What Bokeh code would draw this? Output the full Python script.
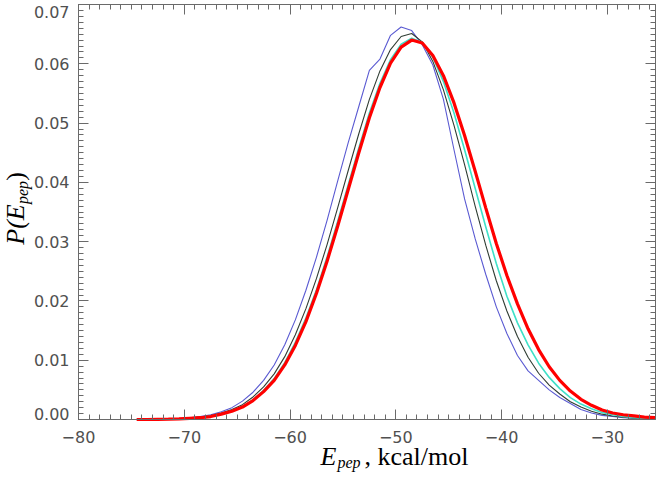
import numpy as np
from bokeh.plotting import figure
from bokeh.models import Range1d, LinearAxis, FixedTicker
from bokeh.core.properties import value
from bokeh.embed import file_html
from bokeh.resources import INLINE

# Peptide energy bins (kcal/mol)
energy = [-74.5, -73.5, -72.5, -71.5, -70.5, -69.5, -68.5, -67.5, -66.5, -65.5,
          -64.5, -63.5, -62.5, -61.5, -60.5, -59.5, -58.5, -57.5, -56.5, -55.5,
          -54.5, -53.5, -52.5, -51.5, -50.5, -49.5, -48.5, -47.5, -46.5, -45.5,
          -44.5, -43.5, -42.5, -41.5, -40.5, -39.5, -38.5, -37.5, -36.5, -35.5,
          -34.5, -33.5, -32.5, -31.5, -30.5, -29.5, -28.5, -27.5, -26.5, -25.5]

p_blue = [0.00002, 0.00003, 0.00005, 0.0001, 0.00017, 0.0003, 0.0005, 0.0008, 0.0013, 0.0020,
          0.0031, 0.0046, 0.0066, 0.0092, 0.0126, 0.0168, 0.0218, 0.0274, 0.0336, 0.0402,
          0.0467, 0.0528, 0.0589, 0.0608, 0.0648, 0.0662, 0.0656, 0.0632, 0.0598, 0.0540,
          0.0455, 0.0372, 0.0305, 0.0245, 0.0190, 0.0145, 0.0108, 0.0082, 0.0066, 0.0050,
          0.0037, 0.0027, 0.0017, 0.0011, 0.0007, 0.0005, 0.0003, 0.0002, 0.0001, 0.0001]

p_dark = [0.00001, 0.00002, 0.00004, 0.00007, 0.00013, 0.00023, 0.0004, 0.00066, 0.0011, 0.0017,
          0.0025, 0.0038, 0.0055, 0.0077, 0.0106, 0.0143, 0.0187, 0.0238, 0.0295, 0.0357,
          0.0420, 0.0482, 0.0540, 0.0588, 0.0624, 0.0646, 0.0651, 0.0637, 0.0604, 0.0556,
          0.0496, 0.0430, 0.0360, 0.0294, 0.0234, 0.0183, 0.0140, 0.0105, 0.0078, 0.0058,
          0.0043, 0.0030, 0.0021, 0.0014, 0.0009, 0.0006, 0.0004, 0.0002, 0.0001, 0.0001]

p_cyan = [0.0, 0.00002, 0.00003, 0.00006, 0.0001, 0.0002, 0.0003, 0.0006, 0.0009, 0.0014,
          0.0022, 0.0033, 0.0049, 0.0069, 0.0096, 0.0130, 0.0171, 0.0219, 0.0274, 0.0334,
          0.0396, 0.0458, 0.0517, 0.0567, 0.0607, 0.0633, 0.0643, 0.0636, 0.0611, 0.0570,
          0.0517, 0.0455, 0.0390, 0.0325, 0.0263, 0.0208, 0.0163, 0.0126, 0.0095, 0.0071,
          0.0052, 0.0037, 0.0026, 0.0018, 0.0012, 0.0008, 0.0005, 0.0003, 0.0002, 0.0001]

p_red = [0.0, 0.0, 0.00003, 0.00006, 0.0001, 0.0002, 0.0003, 0.0005, 0.0009, 0.0014,
         0.0021, 0.0032, 0.0047, 0.0066, 0.0092, 0.0125, 0.0165, 0.0213, 0.0267, 0.0326,
         0.0388, 0.0450, 0.0509, 0.0560, 0.0601, 0.0628, 0.0640, 0.0635, 0.0614, 0.0580,
         0.0534, 0.0479, 0.0419, 0.0357, 0.0297, 0.0243, 0.0195, 0.0153, 0.0118, 0.0089,
         0.0066, 0.0048, 0.0034, 0.0024, 0.0016, 0.0011, 0.0008, 0.0006, 0.0004, 0.0003]

x_ticks = [-80, -70, -60, -50, -40, -30]
x_tick_labels = ["\u221280", "\u221270", "\u221260", "\u221250", "\u221240", "\u221230"]
y_ticks = [0.0, 0.01, 0.02, 0.03, 0.04, 0.05, 0.06, 0.07]
y_tick_labels = ["0.00", "0.01", "0.02", "0.03", "0.04", "0.05", "0.06", "0.07"]

# axis box extent in data units
X0, X1 = -80.0, -25.45
Y0, Y1 = 0.0, 0.07

AXIS_COLOR = "#6a6a6a"
TICK_TEXT = "#505050"
SERIF = "Liberation Serif"
SANS = "DejaVu Sans"

# page size and where the axis box sits on it (pixels from top-left)
W, H = 661, 483
BOX_L, BOX_R, BOX_T, BOX_B = 78, 655, 4, 419
PX_X = (BOX_R - BOX_L) / (X1 - X0)
PX_Y = (BOX_B - BOX_T) / (Y1 - Y0)


def dx(px):
    return X0 + (px - BOX_L) / PX_X


def dy(py):
    return Y0 + (BOX_B - py) / PX_Y


# the plotting frame spans the whole page; the axes are pinned to the box
p = figure(width=W, height=H, output_backend="svg", toolbar_location=None,
           x_axis_type=None, y_axis_type=None,
           x_range=Range1d(dx(0), dx(W)), y_range=Range1d(dy(H), dy(0)),
           min_border=0, min_border_left=0, min_border_right=0,
           min_border_top=0, min_border_bottom=0)
p.background_fill_color = "white"
p.border_fill_color = "white"
p.outline_line_color = None
p.xgrid.visible = False
p.ygrid.visible = False

x_minor = list(np.arange(-80, -25, 1.0))
y_minor = list(np.round(np.arange(0, 0.0705, 0.001), 4))


def tick_axis(ticks, minor, loc, bounds):
    """axis line with inward tick marks, pinned at a data location"""
    ax = LinearAxis(ticker=FixedTicker(ticks=ticks, minor_ticks=minor),
                    fixed_location=loc, bounds=bounds)
    ax.axis_line_color = AXIS_COLOR
    ax.major_tick_line_color = AXIS_COLOR
    ax.minor_tick_line_color = AXIS_COLOR
    ax.major_tick_in = 10
    ax.major_tick_out = 0
    ax.minor_tick_in = 5
    ax.minor_tick_out = 0
    ax.axis_label = None
    ax.major_label_text_font_size = "0px"
    ax.major_label_standoff = 0
    ax.major_label_overrides = {t: "" for t in ticks}
    return ax


def label_style(ax):
    ax.major_label_text_font = SANS
    ax.major_label_text_font_size = "16px"
    ax.major_label_text_color = TICK_TEXT


bottom = tick_axis(x_ticks, x_minor, Y0, (X0, X1))
bottom.major_label_overrides = dict(zip(x_ticks, x_tick_labels))
bottom.major_label_standoff = 11
label_style(bottom)
p.add_layout(bottom, "below")

p.add_layout(tick_axis(x_ticks, x_minor, Y1, (X0, X1)), "above")
p.add_layout(tick_axis(y_ticks, y_minor, X0, (Y0, Y1)), "left")
p.add_layout(tick_axis(y_ticks, y_minor, X1, (Y0, Y1)), "right")

# y tick labels; the two end labels are nudged inside the box
y_label_pos = list(y_ticks)
y_label_pos[0] = dy(BOX_B - 6)
y_label_pos[-1] = dy(BOX_T + 7)
ylab = LinearAxis(ticker=FixedTicker(ticks=y_label_pos, minor_ticks=[]),
                  fixed_location=X0, bounds=(dy(H), dy(0)))
ylab.axis_line_color = None
ylab.major_tick_line_color = None
ylab.minor_tick_line_color = None
ylab.major_tick_in = 0
ylab.major_tick_out = 0
ylab.axis_label = None
ylab.major_label_standoff = 9
ylab.major_label_overrides = dict(zip(y_label_pos, y_tick_labels))
label_style(ylab)
p.add_layout(ylab, "left")

# distributions
p.line(energy, p_blue, line_color="#5a5ad2", line_width=1.1)
p.line(energy, p_dark, line_color="#2f3d33", line_width=1.1)
p.line(energy, p_cyan, line_color="#3ee0c8", line_width=1.6)
p.line(energy, p_red, line_color="#ff0000", line_width=3.2)


def piece(px, py, text, size, italic=True, angle=0.0, align="left"):
    # (px, py): page position of the text anchor on its middle line
    p.text(x=[dx(px)], y=[dy(py)], text=[text], angle=angle,
           text_font=value(SERIF), text_font_style="italic" if italic else "normal",
           text_font_size=size, text_color="black",
           text_align=align, text_baseline="middle")


# x-axis title: E_pep , kcal/mol
piece(320, 456, "E", "26px")
piece(337, 462, "pep", "16px")
piece(364, 456, ", kcal/mol", "26px", italic=False)

# y-axis title: P(E_pep), reading upward; anchors at piece centres
up = np.pi / 2
piece(15, 224, "P(E", "26px", angle=up, align="center")
piece(21.6, 192, "pep", "16px", angle=up, align="center")
piece(15, 176, ")", "26px", italic=False, angle=up, align="center")

open("out.html", "w").write(file_html(p, INLINE))
